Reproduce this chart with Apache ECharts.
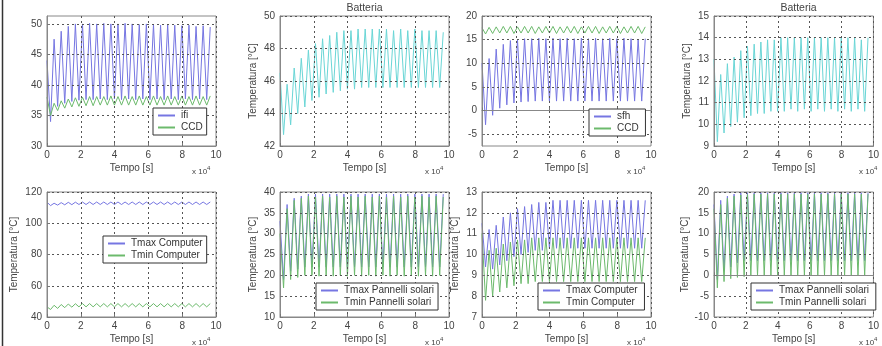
<!DOCTYPE html>
<html>
<head>
<meta charset="utf-8">
<script src="https://cdn.jsdelivr.net/npm/echarts@6/dist/echarts.min.js"></script>
<style>
html, body { margin: 0; padding: 0; background: #fff; }
#chart { width: 882px; height: 346px; }
</style>
</head>
<body>
<div id="chart"></div>
<script>
// istanti di campionamento (x 10^4 s): valore iniziale, poi minimo / massimo alternati
let tempo = [0, 0.21, 0.42, 0.63, 0.84, 1.05, 1.26, 1.47, 1.68, 1.89, 2.1, 2.31, 2.52, 2.73, 2.94, 3.15,
  3.36, 3.57, 3.78, 3.99, 4.2, 4.41, 4.62, 4.83, 5.04, 5.25, 5.46, 5.67, 5.88, 6.09, 6.3, 6.51,
  6.72, 6.93, 7.14, 7.35, 7.56, 7.77, 7.98, 8.19, 8.4, 8.61, 8.82, 9.03, 9.24, 9.45, 9.66];

let xTicks = [0, 2, 4, 6, 8, 10];

// riga in alto
let ifi = [44, 34, 47.5, 36.5, 48.8, 37, 49.6, 37.3, 50, 37.5, 50, 37.6, 50.1, 37.6, 50, 37.7, 50.1,
  37.6, 50, 37.7, 50, 37.6, 50.1, 37.7, 50, 37.6, 49.9, 37.7, 50, 37.6, 49.9, 37.7, 49.8,
  37.6, 49.9, 37.7, 49.8, 37.6, 49.7, 37.7, 49.8, 37.6, 49.6, 37.7, 49.7, 37.6, 49.5];
let ccd1 = [38, 35, 37, 35.8, 37.4, 36.2, 37.7, 36.4, 37.9, 36.5, 38, 36.6, 38.1, 36.6, 38.1, 36.7, 38.1,
  36.7, 38.2, 36.7, 38.1, 36.7, 38.2, 36.7, 38.1, 36.7, 38.2, 36.7, 38.1, 36.7, 38.2, 36.7, 38.1,
  36.7, 38.2, 36.7, 38.1, 36.7, 38.2, 36.7, 38.1, 36.7, 38.2, 36.7, 38.1, 36.7, 38.2];
let batt1 = [46.5, 42.7, 45.8, 43.3, 46.8, 44, 47.4, 44.4, 47.9, 44.8, 48.3, 45, 48.6, 45.2, 48.8, 45.3, 49,
  45.4, 49.1, 45.5, 49.1, 45.5, 49.2, 45.6, 49.2, 45.6, 49.2, 45.6, 49.2, 45.6, 49.2, 45.6, 49.1,
  45.6, 49.2, 45.6, 49.1, 45.6, 49.2, 45.6, 49.1, 45.6, 49.1, 45.6, 49.1, 45.6, 49];
let sfh = [10, -3, 11, -1, 13, 0.5, 14, 1.2, 14.8, 1.6, 15, 1.8, 15.2, 1.9, 15.2, 2, 15.3,
  2, 15.2, 2, 15.3, 2, 15.2, 2, 15.3, 2, 15.2, 2, 15.3, 2, 15.2, 2, 15.3,
  2, 15.2, 2, 15.3, 2, 15.2, 2, 15.3, 2, 15.2, 2, 15.1, 2, 15.2];
let ccd3 = [17.5, 16.2, 17.6, 16.3, 17.7, 16.4, 17.8, 16.4, 17.8, 16.3, 17.7, 16.4, 17.8, 16.4, 17.8, 16.3, 17.7,
  16.4, 17.8, 16.4, 17.8, 16.3, 17.7, 16.4, 17.8, 16.4, 17.8, 16.3, 17.7, 16.4, 17.8, 16.4, 17.8,
  16.3, 17.7, 16.4, 17.8, 16.4, 17.8, 16.3, 17.7, 16.4, 17.8, 16.4, 17.8, 16.3, 17.7];
let batt2 = [13, 9.2, 12.3, 9.6, 12.8, 9.9, 13.1, 10.1, 13.4, 10.3, 13.6, 10.4, 13.7, 10.5, 13.8, 10.5, 13.9,
  10.6, 13.9, 10.6, 14, 10.6, 14, 10.7, 14, 10.6, 14, 10.7, 14, 10.6, 14, 10.7, 14,
  10.6, 14, 10.7, 14, 10.6, 14, 10.7, 14, 10.6, 14, 10.7, 13.9, 10.6, 14];

// riga in basso
let tmaxComp1 = [113.5, 111.3, 112.8, 111.6, 113.2, 111.8, 113.4, 111.9, 113.5, 112, 113.6, 112, 113.6, 112, 113.6, 112, 113.6,
  112, 113.6, 112, 113.6, 112, 113.6, 112, 113.6, 112, 113.6, 112, 113.6, 112, 113.6, 112, 113.6,
  112, 113.6, 112, 113.6, 112, 113.6, 112, 113.6, 112, 113.6, 112, 113.6, 112, 113.6];
let tminComp1 = [46.5, 44.8, 47.5, 45.5, 48, 46, 48.3, 46.3, 48.5, 46.5, 48.6, 46.5, 48.6, 46.5, 48.6, 46.5, 48.6,
  46.5, 48.6, 46.5, 48.6, 46.5, 48.6, 46.5, 48.6, 46.5, 48.6, 46.5, 48.6, 46.5, 48.6, 46.5, 48.6,
  46.5, 48.6, 46.5, 48.6, 46.5, 48.6, 46.5, 48.6, 46.5, 48.6, 46.5, 48.6, 46.5, 48.6];
let tmaxPann1 = [33, 19, 37, 21, 38.5, 21.5, 39, 22, 39.5, 22, 39.5, 22, 39.5, 22, 39.5, 22, 39.5,
  22, 39.5, 22, 39.5, 22, 39.5, 22, 39.5, 22, 39.5, 22, 39.5, 22, 39.5, 22, 39.5,
  22, 39.5, 22, 39.5, 22, 39.5, 22, 39.5, 22, 39.5, 22, 39.5, 22, 39.5];
let tminPann1 = [30, 17, 36, 19, 38, 19.5, 38.5, 20, 39, 20, 38.8, 19.8, 39, 20, 38.8, 19.8, 39,
  20, 38.8, 19.8, 39, 20, 38.8, 19.8, 39, 20, 38.8, 19.8, 39, 20, 38.8, 19.8, 39,
  20, 38.8, 19.8, 39, 20, 38.8, 19.8, 39, 20, 38.8, 19.8, 39, 20, 38.8];
let tmaxComp2 = [11.5, 9.4, 11.2, 9.3, 11.4, 9.5, 11.8, 9.7, 12, 9.9, 12.2, 10, 12.3, 10.1, 12.4, 10.2, 12.5,
  10.2, 12.5, 10.3, 12.6, 10.3, 12.6, 10.3, 12.6, 10.3, 12.6, 10.3, 12.6, 10.3, 12.6, 10.3, 12.6,
  10.3, 12.6, 10.3, 12.6, 10.3, 12.6, 10.3, 12.6, 10.3, 12.6, 10.3, 12.6, 10.3, 12.6];
let tminComp2 = [11, 7.8, 10.2, 8, 10.3, 8.2, 10.5, 8.4, 10.6, 8.5, 10.7, 8.6, 10.7, 8.6, 10.8, 8.7, 10.8,
  8.7, 10.8, 8.7, 10.8, 8.7, 10.8, 8.7, 10.8, 8.7, 10.8, 8.7, 10.8, 8.7, 10.8, 8.7, 10.8,
  8.7, 10.8, 8.7, 10.8, 8.7, 10.8, 8.7, 10.8, 8.7, 10.8, 8.7, 10.8, 8.7, 10.8];
let tmaxPann2 = [17, -1, 18, 1, 19, 2, 19.5, 3, 19.8, 3.5, 19.8, 3.5, 19.8, 3.5, 19.8, 3.5, 19.8,
  3.5, 19.8, 3.5, 19.8, 3.5, 19.8, 3.5, 19.8, 3.5, 19.8, 3.5, 19.8, 3.5, 19.8, 3.5, 19.8,
  3.5, 19.8, 3.5, 19.8, 3.5, 19.8, 3.5, 19.8, 3.5, 19.8, 3.5, 19.8, 3.5, 19.8];
let tminPann2 = [16, -3, 17, -1.5, 18.5, -0.8, 19, -0.5, 19.3, -0.3, 19.4, 0, 19.5, 0, 19.5, 0, 19.5,
  0, 19.5, 0, 19.5, 0, 19.5, 0, 19.5, 0, 19.5, 0, 19.5, 0, 19.5, 0, 19.5,
  0, 19.5, 0, 19.5, 0, 19.5, 0, 19.5, 0, 19.5, 0, 19.5, 0, 19.5];

// tacche asse y
let yTicks1 = [30, 35, 40, 45, 50];
let yTicks2 = [42, 44, 46, 48, 50];
let yTicks3 = [-5, 0, 5, 10, 15, 20];
let yTicks4 = [9, 10, 11, 12, 13, 14, 15];
let yTicks5 = [40, 60, 80, 100, 120];
let yTicks6 = [10, 15, 20, 25, 30, 35, 40];
let yTicks7 = [7, 8, 9, 10, 11, 12, 13];
let yTicks8 = [-10, -5, 0, 5, 10, 15, 20];

const BLU = '#7676e2';
const VERDE = '#6cba6c';
const CIANO = '#6ad6d6';
const TESTO = '#444';

let pannelli = [
  {left: 47, top: 16, h: 130, ymin: 30, ymax: 51.3, yTicks: yTicks1, yName: '', title: '',
    serie: [['ifi', ifi, BLU], ['CCD', ccd1, VERDE]], legend: {left: 153, top: 108}},
  {left: 280, top: 16, h: 130, ymin: 42, ymax: 50, yTicks: yTicks2, yName: 'Temperatura [°C]', title: 'Batteria',
    serie: [['Batteria 1', batt1, CIANO]], legend: null},
  {left: 482, top: 16, h: 130, ymin: -7.5, ymax: 20, yTicks: yTicks3, yName: '', title: '',
    serie: [['sfh', sfh, BLU], ['CCD ', ccd3, VERDE]], legend: {left: 589, top: 109}},
  {left: 714, top: 16, h: 130, ymin: 9, ymax: 15, yTicks: yTicks4, yName: 'Temperatura [°C]', title: 'Batteria',
    serie: [['Batteria 2', batt2, CIANO]], legend: null},
  {left: 47, top: 192, h: 125, ymin: 40, ymax: 120, yTicks: yTicks5, yName: 'Temperatura [°C]', title: '',
    serie: [['Tmax Computer', tmaxComp1, BLU], ['Tmin Computer', tminComp1, VERDE]], legend: {left: 103, top: 236}},
  {left: 280, top: 192, h: 125, ymin: 10, ymax: 40, yTicks: yTicks6, yName: 'Temperatura [°C]', title: '',
    serie: [['Tmax Pannelli solari', tmaxPann1, BLU], ['Tmin Pannelli solari', tminPann1, VERDE]], legend: {left: 316, top: 283}},
  {left: 482, top: 192, h: 125, ymin: 7, ymax: 13, yTicks: yTicks7, yName: 'Temperatura [°C]', title: '',
    serie: [['Tmax Computer ', tmaxComp2, BLU], ['Tmin Computer ', tminComp2, VERDE]], legend: {left: 538, top: 283}},
  {left: 714, top: 192, h: 125, ymin: -10, ymax: 20, yTicks: yTicks8, yName: 'Temperatura [°C]', title: '',
    serie: [['Tmax Pannelli solari ', tmaxPann2, BLU], ['Tmin Pannelli solari ', tminPann2, VERDE]], legend: {left: 751, top: 283}}
];

const LARG = 169;

let option = {
  animation: false,
  textStyle: {fontFamily: 'Liberation Sans, Arial, sans-serif'},
  grid: [], xAxis: [], yAxis: [], series: [], legend: [],
  graphic: [
    {type: 'line', shape: {x1: 2.5, y1: 0, x2: 2.5, y2: 346}, style: {stroke: '#333', lineWidth: 1.5}}
  ]
};

let linea = {color: '#555', type: [2, 3], width: 1};

pannelli.forEach((p, i) => {
  option.grid.push({
    left: p.left, top: p.top, width: LARG, height: p.h,
    show: true, borderColor: '#888', borderWidth: 1, backgroundColor: '#fff'
  });
  option.xAxis.push({
    gridIndex: i, type: 'value', min: 0, max: 10, z: 3,
    name: 'Tempo [s]', nameLocation: 'middle', nameGap: 17,
    nameTextStyle: {fontSize: 10, color: TESTO},
    axisLine: {show: true, lineStyle: {color: '#888'}},
    axisTick: {customValues: xTicks, inside: true, length: 3, lineStyle: {color: '#777'}},
    axisLabel: {customValues: xTicks, fontSize: 10, color: TESTO, margin: 4},
    splitLine: {show: true, lineStyle: linea}
  });
  option.yAxis.push({
    gridIndex: i, type: 'value', min: p.ymin, max: p.ymax, z: 3,
    name: p.yName, nameLocation: 'middle', nameGap: p.ymax >= 100 ? 28 : 22, nameRotate: 90,
    nameTextStyle: {fontSize: 10, color: TESTO},
    axisLine: {show: true, lineStyle: {color: '#888'}},
    axisTick: {customValues: p.yTicks, inside: true, length: 3, lineStyle: {color: '#777'}},
    axisLabel: {customValues: p.yTicks, fontSize: 10, color: TESTO, margin: 5},
    splitLine: {show: true, lineStyle: linea}
  });
  p.serie.forEach(s => {
    option.series.push({
      type: 'line', name: s[0], xAxisIndex: i, yAxisIndex: i,
      data: tempo.map((t, k) => [t, s[1][k]]),
      symbol: 'none', showSymbol: false,
      lineStyle: {width: 1, color: s[2]}, itemStyle: {color: s[2]},
      z: 2
    });
  });
  if (p.legend) {
    option.legend.push({
      orient: 'vertical', left: p.legend.left, top: p.legend.top,
      data: p.serie.map(s => s[0]),
      icon: 'rect', itemWidth: 17, itemHeight: 2,
      padding: [2, 4, 2, 5], itemGap: 1,
      borderColor: '#333', borderWidth: 1, borderRadius: 0, backgroundColor: '#fff',
      textStyle: {fontSize: 10, lineHeight: 11, color: '#333', padding: [0, 0, 0, 1]},
      selectedMode: false, z: 6
    });
  }
  if (p.title) {
    option.graphic.push({type: 'text', x: p.left + LARG / 2, y: 3,
      style: {text: p.title, fontSize: 10.5, fill: TESTO, textAlign: 'center', fontFamily: 'Liberation Sans, Arial, sans-serif'}});
  }
  option.graphic.push({type: 'text', x: p.left + LARG - 24, y: p.top + p.h + 19,
    style: {text: '{a|x 10}{b|4}', fontFamily: 'Liberation Sans, Arial, sans-serif',
      rich: {a: {fontSize: 8, fill: TESTO}, b: {fontSize: 6, fill: TESTO, padding: [0, 0, 7, 0]}}}});
});

let dom = document.querySelector('#chart');
let myChart = echarts.init(dom, null, {renderer: 'canvas'});
myChart.setOption(option);
</script>
</body>
</html>
